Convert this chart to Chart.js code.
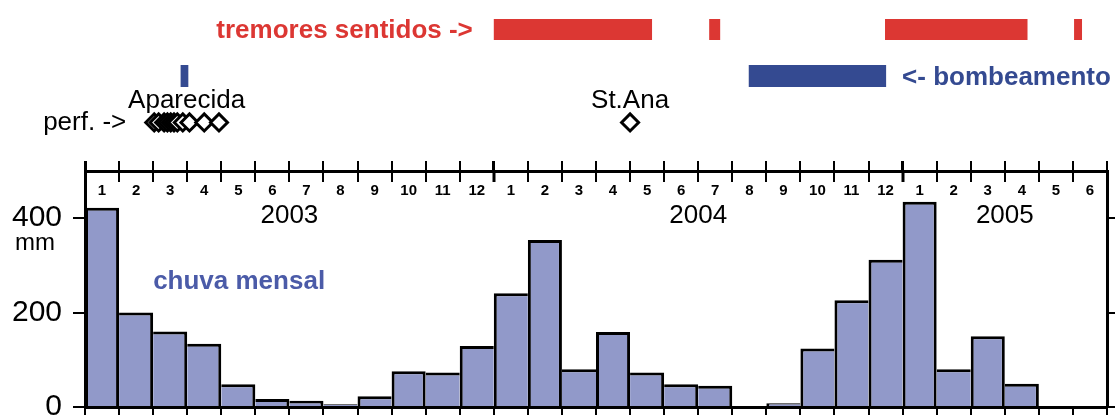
<!DOCTYPE html>
<html><head><meta charset="utf-8">
<script src="https://cdn.jsdelivr.net/npm/chart.js@4.4.1/dist/chart.umd.min.js"></script>
<style>
html,body{margin:0;padding:0;background:#fff;overflow:hidden}
#wrap{position:relative;width:1115px;height:415px}
canvas{display:block;position:absolute;left:0;top:0}
</style>
</head><body>
<div id="wrap">
<canvas id="main" width="1115" height="415"></canvas>
<canvas id="top" width="1115" height="150"></canvas>
</div>
<script>
// ---- data (months Jan 2003 .. Jun 2005) ----
const MONTH_LABELS = ['1','2','3','4','5','6','7','8','9','10','11','12',
                      '1','2','3','4','5','6','7','8','9','10','11','12',
                      '1','2','3','4','5','6'];
const RAIN_MM = [422,200,160,134,48,17,13,6,23,76,73,129,
                 241,354,80,159,73,48,45,0,8,124,226,312,
                 435,80,150,49,0,0];
const Y_TICKS = [0,200,400];
const YEARS = ['2003','2004','2005'];
const YEAR_LABEL_AT = ['2003-07-01','2004-07-01','2005-04-01'];
const TREMORES = [['2004-01-01','2004-05-21'],['2004-07-11','2004-07-21'],
                  ['2004-12-16','2005-04-21'],['2005-06-02','2005-06-09']];
const BOMBEAMENTO = [['2003-03-26','2003-04-02'],['2004-08-16','2004-12-17']];
const PERF_APARECIDA = ['2003-03-02','2003-03-06','2003-03-11','2003-03-14','2003-03-17',
                        '2003-03-20','2003-03-23','2003-03-28','2003-04-03','2003-04-16','2003-04-29'];
const PERF_STANA = ['2004-05-01'];

// ---- helpers ----
const START_YEAR = 2003;
function monthIndex(s){
  const [Y,M,D] = s.split('-').map(Number);
  const days = new Date(Y, M, 0).getDate();
  return (Y-START_YEAR)*12 + (M-1) + (D-1)/days;
}
function intervalsToLine(list,row){
  const out=[];
  list.forEach(([a,b])=>{ out.push({x:monthIndex(a),y:row},{x:monthIndex(b),y:row},{x:monthIndex(b),y:null}); });
  return out;
}
const ROW_TREMORES=0, ROW_BOMB=1, ROW_PERF=2;
const RED='#dc3733', BLUE='#344a91', LIGHTBLUE='#4b5ba8', BARFILL='#9199c9';
const FONT='"Liberation Sans", Arial, Helvetica, sans-serif';
Chart.defaults.font.family = FONT;
Chart.defaults.color = '#000';

function drawText(ctx,str,px,py,font,color,align){
  ctx.font=font; ctx.fillStyle=color; ctx.textAlign=align; ctx.textBaseline='alphabetic';
  ctx.fillText(str,px,py);
}

// ---------- main rainfall chart ----------
const mainOverlay = {
  id:'mainOverlay',
  afterDraw(chart){
    const {ctx, chartArea:ca, scales} = chart;
    const x=scales.x, y=scales.y;
    ctx.save();
    ctx.strokeStyle='#000';
    for(let i=1;i<MONTH_LABELS.length;i++){
      const px=Math.round(x.getPixelForValue(i));
      ctx.lineWidth = i%12===0 ? 3 : 2;
      ctx.beginPath(); ctx.moveTo(px, ca.top); ctx.lineTo(px, ca.top+11); ctx.stroke();
    }
    drawText(ctx,'chuva mensal', x.getPixelForValue(2), y.getPixelForValue(250), 'bold 26px '+FONT, LIGHTBLUE, 'left');
    YEARS.forEach((yr,i)=>drawText(ctx,yr, x.getPixelForValue(monthIndex(YEAR_LABEL_AT[i])), y.getPixelForValue(390), '26px '+FONT, '#000', 'center'));
    drawText(ctx,'mm', 35, y.getPixelForValue(400)+32, '24px '+FONT, '#000', 'center');
    ctx.restore();
  }
};

function barBorder(c){
  const i=c.dataIndex;
  if(i===undefined) return {top:3,bottom:0,left:0,right:0};
  const v=RAIN_MM[i], prev=i>0?RAIN_MM[i-1]:0, next=i<RAIN_MM.length-1?RAIN_MM[i+1]:0;
  return {top:3,bottom:0,left:v>=prev?3:0,right:v>next?3:0};
}
function noPad(s){ s.paddingTop=0; s.paddingBottom=0; }

new Chart(document.getElementById('main'),{
  type:'bar',
  data:{
    datasets:[
      {type:'bar', label:'chuva mensal', data:RAIN_MM.map((v,i)=>({x:i+0.5,y:v})), xAxisID:'x', yAxisID:'y',
       backgroundColor:BARFILL, borderColor:'#000', borderWidth:barBorder, borderSkipped:'start',
       barPercentage:1, categoryPercentage:1, inflateAmount:0}
    ]
  },
  options:{
    responsive:false, animation:false, devicePixelRatio:1, events:[],
    layout:{autoPadding:false, padding:{top:161,left:0,right:0,bottom:0}},
    plugins:{legend:{display:false}, tooltip:{enabled:false}},
    scales:{
      x:{type:'linear', axis:'x', position:'bottom', min:0, max:30, offset:false, z:1,
         afterBuildTicks:s=>{ s.ticks = MONTH_LABELS.map((_,i)=>({value:i})).concat([{value:MONTH_LABELS.length}]); },
         grid:{offset:false, drawOnChartArea:false, tickLength:10, color:'#000', lineWidth:2},
         border:{display:true, color:'#000', width:3},
         ticks:{display:false},
         afterFit:s=>{ s.height=8; s.paddingLeft=0; s.paddingRight=0; }},
      x2:{type:'category', axis:'x', position:'top', labels:MONTH_LABELS, offset:true,
         grid:{offset:true, drawOnChartArea:false, tickLength:10, color:'#000', lineWidth:c=>(c.index%12===0?3:2)},
         border:{display:true, color:'#000', width:3},
         ticks:{mirror:true, padding:11, autoSkip:false, maxRotation:0, minRotation:0, color:'#000', font:{size:15, weight:'bold'}},
         afterFit:s=>{ s.height=10; s.paddingLeft=0; s.paddingRight=0; }},
      y:{type:'linear', axis:'y', position:'left', min:0, max:500, beginAtZero:true, z:1,
         afterBuildTicks:s=>{ s.ticks = Y_TICKS.map(v=>({value:v})); },
         grid:{drawOnChartArea:false, tickLength:12, color:'#000', lineWidth:2},
         border:{display:true, color:'#000', width:3},
         ticks:{color:'#000', padding:11, font:{size:30}},
         afterFit:s=>{ s.width=85; noPad(s); }},
      y2:{type:'linear', axis:'y', position:'right', min:0, max:500, z:1,
         afterBuildTicks:s=>{ s.ticks = Y_TICKS.map(v=>({value:v})); },
         grid:{drawOnChartArea:false, tickLength:8, color:'#000', lineWidth:2},
         border:{display:true, color:'#000', width:3},
         ticks:{display:false},
         afterFit:s=>{ s.width=8; noPad(s); }}
    }
  },
  plugins:[mainOverlay]
});

// ---------- top annotation strip (same month axis) ----------
const topOverlay = {
  id:'topOverlay',
  afterDraw(chart){
    const {ctx, scales} = chart;
    const x=scales.x, r=scales.y;
    ctx.save();
    drawText(ctx,'tremores sentidos ->', x.getPixelForValue(monthIndex(TREMORES[0][0]))-21, r.getPixelForValue(ROW_TREMORES)+9, 'bold 26px '+FONT, RED, 'right');
    drawText(ctx,'<- bombeamento', x.getPixelForValue(monthIndex(BOMBEAMENTO[1][1]))+16, r.getPixelForValue(ROW_BOMB)+9.5, 'bold 26px '+FONT, BLUE, 'left');
    const a0=monthIndex(PERF_APARECIDA[0]), a1=monthIndex(PERF_APARECIDA[PERF_APARECIDA.length-1]);
    drawText(ctx,'Aparecida', x.getPixelForValue((a0+a1)/2), r.getPixelForValue(ROW_PERF)-14.5, '26px '+FONT, '#000', 'center');
    drawText(ctx,'St.Ana', x.getPixelForValue(monthIndex(PERF_STANA[0])), r.getPixelForValue(ROW_PERF)-14, '26px '+FONT, '#000', 'center');
    drawText(ctx,'perf. ->', x.getPixelForValue(a0)-28, r.getPixelForValue(ROW_PERF)+7.5, '26px '+FONT, '#000', 'right');
    ctx.restore();
  }
};
const diamond = {showLine:false, pointStyle:'rectRot', pointRadius:8.5, pointHoverRadius:8.5,
                 pointBorderWidth:3, pointBackgroundColor:'#fff', pointBorderColor:'#000', clip:false};
const band = {borderCapStyle:'butt', pointRadius:0, pointHoverRadius:0, spanGaps:false, tension:0, fill:false, clip:false};

new Chart(document.getElementById('top'),{
  type:'line',
  data:{
    datasets:[
      Object.assign({label:'perf St.Ana', data:PERF_STANA.map(d=>({x:monthIndex(d),y:ROW_PERF}))}, diamond),
      Object.assign({label:'perf Aparecida', data:PERF_APARECIDA.map(d=>({x:monthIndex(d),y:ROW_PERF}))}, diamond),
      Object.assign({label:'bombeamento', data:intervalsToLine(BOMBEAMENTO,ROW_BOMB), borderColor:BLUE, borderWidth:22}, band),
      Object.assign({label:'tremores', data:intervalsToLine(TREMORES,ROW_TREMORES), borderColor:RED, borderWidth:21}, band)
    ]
  },
  options:{
    responsive:false, animation:false, devicePixelRatio:1, events:[],
    layout:{autoPadding:false, padding:{top:0,left:85,right:8,bottom:0}},
    plugins:{legend:{display:false}, tooltip:{enabled:false}},
    scales:{
      x:{type:'linear', display:false, min:0, max:30},
      y:{type:'linear', display:false, reverse:true, min:-0.634, max:2.592}
    }
  },
  plugins:[topOverlay]
});
</script>
</body></html>
